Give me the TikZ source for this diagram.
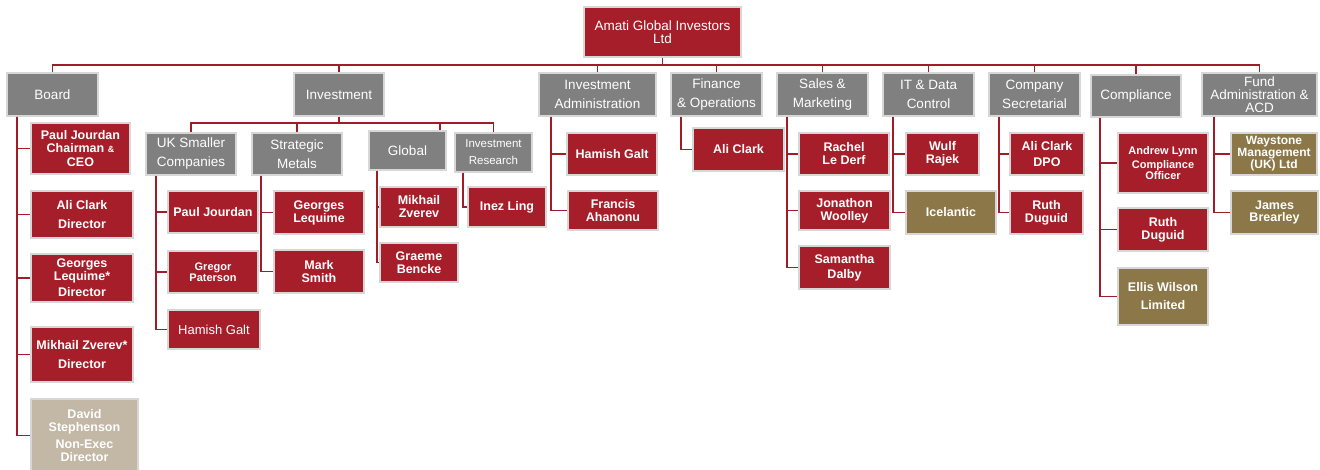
\documentclass[tikz,border=0pt]{standalone}
\usepackage{fontspec}
\setmainfont{Liberation Sans}
\definecolor{amred}{RGB}{166,30,41}
\definecolor{hdrgray}{RGB}{128,128,128}
\definecolor{amgold}{RGB}{140,119,73}
\definecolor{ambeige}{RGB}{195,183,166}
\definecolor{connred}{RGB}{160,28,40}
\definecolor{boxedge}{RGB}{215,215,215}
\newcommand{\bx}[7]{\node[#6, minimum width={(#4-#2)*1pt}, minimum height={(#5-#3)*1pt}] (#1) at ({(#2+#4)/2},{(#3+#5)/2}) {#7};}
\newcommand{\fs}[2]{\fontsize{#1}{#2}\selectfont}
\tikzset{
  box/.style={draw=boxedge, line width=1.2pt, inner sep=0pt, align=center, text=white},
  hdr/.style={box, fill=hdrgray, font=\fs{13.5}{19}},
  redb/.style={box, fill=amred, font=\bfseries\fs{12.5}{13}},
  goldb/.style={box, fill=amgold, font=\bfseries\fs{12.5}{13}},
  beigeb/.style={box, fill=ambeige, font=\bfseries\fs{12.5}{13.5}},
  conn/.style={draw=connred, line width=1.8pt},
}
\begin{document}
\begin{tikzpicture}[x=1pt,y=-1pt]
\useasboundingbox (0,0) rectangle (1320,470);
% top
\bx{amati}{584}{7}{741}{57}{box, fill=amred, font=\fs{13.5}{12.5}}{Amati Global Investors\\Ltd}
% headers
\bx{board}{7}{73}{98}{116}{hdr}{Board}
\bx{inv}{294}{73}{384}{116}{hdr}{Investment}
\bx{ia}{539}{73}{656}{116}{hdr}{Investment\\Administration}
\bx{fin}{671}{73}{762}{116}{hdr}{Finance\\\& Operations}
\bx{sal}{777}{73}{868}{116}{hdr}{Sales \&\\Marketing}
\bx{it}{883}{73}{974}{116}{hdr}{IT \& Data\\Control}
\bx{cs}{989}{73}{1080}{116}{hdr}{Company\\Secretarial}
\bx{comp}{1091}{75}{1181}{117}{hdr}{Compliance}
\bx{fund}{1202}{73}{1317}{116}{hdr, font=\fs{13.5}{13}}{Fund\\Administration \&\\ACD}
% investment sub-headers
\bx{uk}{146}{133}{236}{175}{hdr}{UK Smaller\\Companies}
\bx{sm}{252}{133}{342}{175}{hdr}{Strategic\\Metals}
\bx{gl}{369}{131}{446}{170}{hdr}{Global}
\bx{ir}{455}{133}{532}{172}{hdr, font=\fs{11.5}{17}}{Investment\\Research}
% board members
\bx{b1}{31}{123}{130}{174}{redb, font=\bfseries\fs{12.5}{13.5}}{Paul Jourdan\\Chairman {\fs{9}{9}\&}\\CEO}
\bx{b2}{31}{191}{133}{238}{redb, font=\bfseries\fs{12.5}{19}}{Ali Clark\\Director}
\bx{b3}{31}{254}{133}{302}{redb, font=\bfseries\fs{12.5}{13}}{Georges\\Lequime*\\[3pt]Director}
\bx{b4}{31}{327}{133}{382}{redb, font=\bfseries\fs{12.5}{19}}{Mikhail Zverev*\\Director}
\bx{b5}{31}{399}{138}{472}{beigeb}{David\\Stephenson\\[3pt]Non-Exec\\Director}
% UK smaller companies
\bx{u1}{168}{191}{258}{233}{redb}{Paul Jourdan}
\bx{u2}{168}{251}{258}{293}{redb, font=\bfseries\fs{11}{10.5}}{Gregor\\Paterson}
\bx{u3}{168}{310}{260}{349}{redb, font=\fs{13}{13}}{Hamish Galt}
% strategic metals
\bx{s1}{274}{191}{364}{234}{redb}{Georges\\Lequime}
\bx{s2}{274}{250}{364}{293}{redb, font=\bfseries\fs{12.5}{13.5}}{Mark\\Smith}
% global
\bx{g1}{380}{187}{458}{227}{redb}{Mikhail\\Zverev}
\bx{g2}{380}{243}{458}{282}{redb}{Graeme\\Bencke}
% investment research
\bx{r1}{468}{187}{546}{227}{redb}{Inez Ling}
% investment administration
\bx{a1}{567}{133}{657}{175}{redb}{Hamish Galt}
\bx{a2}{568}{191}{658}{230}{redb}{Francis\\Ahanonu}
% finance
\bx{f1}{693}{128}{784}{171}{redb}{Ali Clark}
% sales
\bx{m1}{799}{133}{889}{175}{redb}{Rachel\\Le Derf}
\bx{m2}{799}{191}{890}{230}{redb}{Jonathon\\Woolley}
\bx{m3}{799}{246}{890}{289}{redb, font=\bfseries\fs{12.5}{15}}{Samantha\\Dalby}
% IT
\bx{t1}{906}{133}{979}{175}{redb}{Wulf\\Rajek}
\bx{t2}{906}{191}{996}{234}{goldb}{Icelantic}
% company secretarial
\bx{c1}{1010}{133}{1084}{175}{redb, font=\bfseries\fs{12.5}{16}}{Ali Clark\\DPO}
\bx{c2}{1010}{191}{1083}{234}{redb}{Ruth\\Duguid}
% compliance
\bx{k1}{1118}{133}{1208}{193}{redb, font=\bfseries\fs{11}{10.5}}{Andrew Lynn\\[4pt]Compliance\\Officer}
\bx{k2}{1118}{208}{1208}{251}{redb}{Ruth\\Duguid}
\bx{k3}{1118}{268}{1208}{325}{goldb, font=\bfseries\fs{12.5}{18}}{Ellis Wilson\\Limited}
% fund administration
\bx{w1}{1231}{133}{1317}{175}{goldb, font=\bfseries\fs{12}{12}}{Waystone\\Management\\(UK) Ltd}
\bx{w2}{1231}{191}{1318}{234}{goldb, font=\bfseries\fs{12.5}{12}}{James\\Brearley}
% ---------- connectors ----------
\coordinate (bus) at (0,65);
\coordinate (ibus) at (0,123);
\draw[conn] (amati.south) -- (amati.south |- bus);
\draw[conn] (board.north) -- (board.north |- bus) -- (fund.north |- bus) -- (fund.north);
\foreach \h in {inv,ia,fin,sal,it,cs,comp} \draw[conn] (\h.north) -- (\h.north |- bus);
\draw[conn] (inv.south) -- (inv.south |- ibus);
\draw[conn] (uk.north) -- (uk.north |- ibus) -- (ir.north |- ibus) -- (ir.north);
\draw[conn] (sm.north) -- (sm.north |- ibus);
\coordinate (gx) at (440,0);
\draw[conn] (gl.north -| gx) -- (gx |- ibus);
% vertical trunks
\coordinate (bdx) at (17,0);
\coordinate (ukx) at (156,0);
\coordinate (smx) at (261,0);
\coordinate (glx) at (377,0);
\coordinate (irx) at (463,0);
\coordinate (iax) at (551,0);
\coordinate (fnx) at (681,0);
\coordinate (sax) at (787,0);
\coordinate (itx) at (893,0);
\coordinate (csx) at (999,0);
\coordinate (cpx) at (1100,0);
\coordinate (fdx) at (1214,0);
\foreach \c in {b1,b2,b3,b4,b5} \draw[conn] (board.south -| bdx) |- (\c.west);
\foreach \c in {u1,u2,u3} \draw[conn] (uk.south -| ukx) |- (\c.west);
\foreach \c in {s1,s2} \draw[conn] (sm.south -| smx) |- (\c.west);
\foreach \c in {g1,g2} \draw[conn] (gl.south -| glx) |- (\c.west);
\draw[conn] (ir.south -| irx) |- (r1.west);
\foreach \c in {a1,a2} \draw[conn] (ia.south -| iax) |- (\c.west);
\draw[conn] (fin.south -| fnx) |- (f1.west);
\foreach \c in {m1,m2,m3} \draw[conn] (sal.south -| sax) |- (\c.west);
\foreach \c in {t1,t2} \draw[conn] (it.south -| itx) |- (\c.west);
\foreach \c in {c1,c2} \draw[conn] (cs.south -| csx) |- (\c.west);
\foreach \c in {k1,k2,k3} \draw[conn] (comp.south -| cpx) |- (\c.west);
\foreach \c in {w1,w2} \draw[conn] (fund.south -| fdx) |- (\c.west);
\end{tikzpicture}
\end{document}
